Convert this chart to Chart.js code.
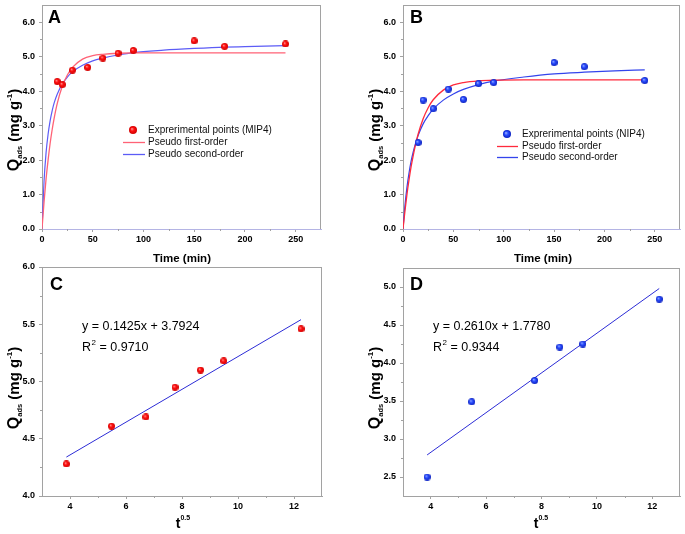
<!DOCTYPE html>
<html>
<head>
<meta charset="utf-8">
<script src="https://cdn.jsdelivr.net/npm/chart.js@4.4.1/dist/chart.umd.min.js"></script>
<style>
  html, body { margin: 0; padding: 0; background: #fff; }
  #wrap { position: relative; width: 685px; height: 534px; }
  #wrap canvas { position: absolute; left: 0; top: 0; }
</style>
</head>
<body>
<div id="wrap">
  <canvas id="chartA" width="685" height="534"></canvas>
  <canvas id="chartB" width="685" height="534"></canvas>
  <canvas id="chartC" width="685" height="534"></canvas>
  <canvas id="chartD" width="685" height="534"></canvas>
</div>
<script>
// kinetics data (min, mg/g)
const timeExp = [15, 20, 30, 45, 60, 75, 90, 150, 180, 240];
const qExpMIP = [4.28, 4.19, 4.61, 4.69, 4.96, 5.10, 5.18, 5.46, 5.30, 5.37];
const qExpNIP = [2.51, 3.74, 3.49, 4.06, 3.76, 4.22, 4.25, 4.83, 4.71, 4.31];

// fitted curves
const timeFit = [0, 2, 4, 6, 8, 10, 12, 15, 20, 25, 30, 40, 50, 60, 75, 90, 120, 150, 180, 210, 240];
const firstOrderMIP = [0, 0.78, 1.45, 2.00, 2.48, 2.88, 3.22, 3.64, 4.14, 4.47, 4.69, 4.93, 5.03, 5.07, 5.10, 5.11, 5.11, 5.11, 5.11, 5.11, 5.11];
const secondOrderMIP = [0, 1.38, 2.21, 2.75, 3.14, 3.43, 3.66, 3.91, 4.21, 4.41, 4.56, 4.75, 4.88, 4.96, 5.05, 5.12, 5.19, 5.24, 5.28, 5.30, 5.32];
const firstOrderNIP = [0, 0.54, 1.02, 1.43, 1.80, 2.11, 2.39, 2.75, 3.20, 3.52, 3.75, 4.03, 4.18, 4.25, 4.30, 4.32, 4.33, 4.33, 4.33, 4.33, 4.33];
const secondOrderNIP = [0, 0.70, 1.23, 1.63, 1.96, 2.22, 2.44, 2.71, 3.05, 3.29, 3.48, 3.74, 3.92, 4.05, 4.19, 4.29, 4.41, 4.50, 4.55, 4.59, 4.62];

// intraparticle diffusion (t^0.5)
const sqrtTimeMIP = [3.87, 5.48, 6.71, 7.75, 8.66, 9.49, 12.25];
const qDiffMIP = [4.28, 4.61, 4.69, 4.95, 5.10, 5.18, 5.46];
const fitXMIP = [3.87, 12.25];
const fitYMIP = [4.34, 5.54];
const sqrtTimeNIP = [3.87, 5.48, 7.75, 8.66, 9.49, 12.25];
const qDiffNIP = [2.50, 3.49, 3.77, 4.21, 4.25, 4.84];
const fitXNIP = [3.87, 12.25];
const fitYNIP = [2.79, 4.98];

// ticks
const timeTicks = [0, 50, 100, 150, 200, 250];
const timeMinor = [25, 75, 125, 175, 225];
const qTicks = [0, 1, 2, 3, 4, 5, 6];
const qMinor = [0.5, 1.5, 2.5, 3.5, 4.5, 5.5];
const sqrtTicks = [4, 6, 8, 10, 12];
const sqrtMinor = [5, 7, 9, 11];
const qTicksC = [4.0, 4.5, 5.0, 5.5, 6.0];
const qMinorC = [4.25, 4.75, 5.25, 5.75];
const qTicksD = [2.5, 3.0, 3.5, 4.0, 4.5, 5.0];
const qMinorD = [2.75, 3.25, 3.75, 4.25, 4.75];

const FONT = '"Liberation Sans", Arial, sans-serif';
const GREY = '#a2a2a2';

function sphere(d, hi, mid, lo) {
  const c = document.createElement('canvas');
  c.width = c.height = d;
  const g = c.getContext('2d');
  const r = d / 2;
  const grad = g.createRadialGradient(r * 0.7, r * 0.7, 0, r, r, r);
  grad.addColorStop(0, hi);
  grad.addColorStop(0.45, mid);
  grad.addColorStop(1, lo);
  g.fillStyle = grad;
  g.beginPath();
  g.arc(r, r, r, 0, Math.PI * 2);
  g.fill();
  return c;
}
const redDot = sphere(7, '#ff9a9a', '#ff1010', '#d00000');
const blueDot = sphere(7, '#9fb4ff', '#2a4dff', '#0a20c0');
const redBig = sphere(8, '#ffa0a0', '#ff1010', '#d00000');
const blueBig = sphere(8, '#a8bcff', '#2a4dff', '#0a20c0');

const pts = (xs, ys) => xs.map((x, i) => ({ x: x, y: ys[i] }));

// draws text pieces with sub/superscripts, centred at (x, y)
function richText(ctx, parts, x, y, rotate) {
  ctx.save();
  ctx.translate(x, y);
  if (rotate) ctx.rotate(-Math.PI / 2);
  let total = 0;
  parts.forEach(p => { ctx.font = 'bold ' + p.size + 'px ' + FONT; total += ctx.measureText(p.t).width; });
  let cx = -total / 2;
  ctx.fillStyle = '#000';
  ctx.textBaseline = 'alphabetic';
  ctx.textAlign = 'left';
  parts.forEach(p => {
    ctx.font = 'bold ' + p.size + 'px ' + FONT;
    ctx.fillText(p.t, cx, 5 + (p.dy || 0));
    cx += ctx.measureText(p.t).width;
  });
  ctx.restore();
}

const yTitle = [
  { t: 'Q', size: 16 }, { t: 'ads', size: 7.5, dy: 3 },
  { t: ' (mg g', size: 15 }, { t: '-1', size: 8, dy: -7 }, { t: ')', size: 15 }
];

const decor = {
  id: 'decor',
  afterDraw(chart, args, o) {
    const ctx = chart.ctx, a = chart.chartArea;
    const xs = chart.scales.x, ys = chart.scales.y;
    ctx.save();
    ctx.strokeStyle = GREY;
    ctx.lineWidth = 1;
    ctx.beginPath();
    ctx.moveTo(a.left, Math.round(a.top) + 0.5);
    ctx.lineTo(a.right, Math.round(a.top) + 0.5);
    ctx.moveTo(Math.round(a.right) - 0.5, a.top);
    ctx.lineTo(Math.round(a.right) - 0.5, a.bottom);
    o.minorX.forEach(v => {
      const px = Math.round(xs.getPixelForValue(v)) + 0.5;
      ctx.moveTo(px, a.bottom);
      ctx.lineTo(px, a.bottom + 2);
    });
    o.minorY.forEach(v => {
      const py = Math.round(ys.getPixelForValue(v)) + 0.5;
      ctx.moveTo(a.left - 2, py);
      ctx.lineTo(a.left, py);
    });
    ctx.stroke();

    // panel letter
    ctx.fillStyle = '#000';
    ctx.font = 'bold 18px ' + FONT;
    ctx.textAlign = 'left';
    ctx.textBaseline = 'alphabetic';
    ctx.fillText(o.letter, o.letterPos[0], o.letterPos[1]);

    // axis titles
    richText(ctx, o.xTitle, o.xTitlePos[0], o.xTitlePos[1], false);
    richText(ctx, yTitle, o.yTitlePos[0], o.yTitlePos[1], true);

    // legend
    if (o.legend) {
      const L = o.legend;
      ctx.font = '10px ' + FONT;
      ctx.textBaseline = 'middle';
      chart.data.datasets.forEach((ds, i) => {
        const y = L.y[i];
        if (ds.pointStyle) {
          ctx.drawImage(L.dot, L.dotX - 4, y - 4);
        } else {
          ctx.strokeStyle = ds.borderColor;
          ctx.lineWidth = 1.3;
          ctx.beginPath();
          ctx.moveTo(L.lineX[0], y + 0.5);
          ctx.lineTo(L.lineX[1], y + 0.5);
          ctx.stroke();
        }
        ctx.fillStyle = '#111';
        ctx.fillText(ds.label, L.textX, y + 0.5);
      });
    }

    // equation
    if (o.equation) {
      const E = o.equation;
      ctx.fillStyle = '#000';
      ctx.textBaseline = 'middle';
      ctx.font = '12.5px ' + FONT;
      ctx.fillText(E.line, E.x, E.y[0]);
      ctx.fillText('R', E.x, E.y[1]);
      const w = ctx.measureText('R').width;
      ctx.font = '8px ' + FONT;
      ctx.fillText('2', E.x + w + 0.5, E.y[1] - 5);
      ctx.font = '12.5px ' + FONT;
      ctx.fillText(' = ' + E.r2, E.x + w + 5, E.y[1]);
    }
    ctx.restore();
  }
};

function axis(min, max, ticks, fmt, isX, borderColor) {
  return {
    type: 'linear',
    min: min,
    max: max,
    afterBuildTicks: s => { s.ticks = ticks.map(v => ({ value: v })); },
    afterFit: s => {
      if (isX) s.height = 30; else s.width = 40;
      s.paddingLeft = 0; s.paddingRight = 0; s.paddingTop = 0; s.paddingBottom = 0;
    },
    grid: { drawOnChartArea: false, drawTicks: true, tickLength: 3, tickColor: GREY },
    border: { display: true, color: borderColor || GREY, width: 1 },
    ticks: {
      autoSkip: false, maxRotation: 0, padding: isX ? 2 : 4, color: '#000',
      font: { family: FONT, size: 9, weight: 'bold' },
      callback: v => fmt(v)
    }
  };
}

function makePanel(id, p) {
  return new Chart(document.getElementById(id), {
    type: 'scatter',
    data: { datasets: p.datasets },
    options: {
      responsive: false,
      animation: false,
      events: [],
      layout: { padding: { left: p.area[0] - 40, top: p.area[1], right: 685 - p.area[2], bottom: 534 - p.area[3] - 30 } },
      scales: {
        x: axis(p.x[0], p.x[1], p.xTicks, p.xFmt, true, p.xBorder),
        y: axis(p.y[0], p.y[1], p.yTicks, p.yFmt, false)
      },
      plugins: {
        legend: { display: false },
        tooltip: { enabled: false },
        decor: p.decor
      }
    },
    plugins: [decor]
  });
}

const lineSet = (label, xs, ys, color, width) => ({
  label: label, data: pts(xs, ys), showLine: true, borderColor: color,
  borderWidth: width, pointRadius: 0, cubicInterpolationMode: 'monotone', fill: false
});
const dotSet = (label, xs, ys, img) => ({
  label: label, data: pts(xs, ys), pointStyle: img, pointRadius: 3.5, showLine: false
});

const timeTitle = [{ t: 'Time (min)', size: 11.5 }];
const sqrtTitle = [{ t: 't', size: 14 }, { t: '0.5', size: 7, dy: -8 }];
const int = v => String(v);
const one = v => v.toFixed(1);

makePanel('chartA', {
  area: [42, 1, 321, 229], x: [0, 275], y: [0, 6.5],
  xTicks: timeTicks, yTicks: qTicks, xFmt: int, yFmt: one, xBorder: '#b4b4e4',
  datasets: [
    dotSet('Exprerimental points (MIP4)', timeExp, qExpMIP, redDot),
    lineSet('Pseudo first-order', timeFit, firstOrderMIP, '#ff6276', 1.3),
    lineSet('Pseudo second-order', timeFit, secondOrderMIP, '#5c5cf6', 1.2)
  ],
  decor: {
    minorX: timeMinor, minorY: qMinor, letter: 'A', letterPos: [48, 23],
    xTitle: timeTitle, xTitlePos: [182, 257], yTitlePos: [14, 130],
    legend: { y: [130, 142, 154], dot: redBig, dotX: 133, lineX: [123, 145], textX: 148 }
  }
});

makePanel('chartB', {
  area: [403, 1, 682, 229], x: [0, 275], y: [0, 6.5],
  xTicks: timeTicks, yTicks: qTicks, xFmt: int, yFmt: one, xBorder: '#b4b4e4',
  datasets: [
    dotSet('Exprerimental points (NIP4)', timeExp, qExpNIP, blueDot),
    lineSet('Pseudo first-order', timeFit, firstOrderNIP, '#ff2a3c', 1.3),
    lineSet('Pseudo second-order', timeFit, secondOrderNIP, '#3444ec', 1.2)
  ],
  decor: {
    minorX: timeMinor, minorY: qMinor, letter: 'B', letterPos: [410, 23],
    xTitle: timeTitle, xTitlePos: [543, 257], yTitlePos: [375, 130],
    legend: { y: [134, 146, 157], dot: blueBig, dotX: 507, lineX: [497, 518], textX: 522 }
  }
});

makePanel('chartC', {
  area: [42, 267, 322, 496], x: [3, 13], y: [4, 6],
  xTicks: sqrtTicks, yTicks: qTicksC, xFmt: int, yFmt: one,
  datasets: [
    dotSet('MIP4', sqrtTimeMIP, qDiffMIP, redDot),
    lineSet('fit', fitXMIP, fitYMIP, '#2c2cd6', 1)
  ],
  decor: {
    minorX: sqrtMinor, minorY: qMinorC, letter: 'C', letterPos: [50, 290],
    xTitle: sqrtTitle, xTitlePos: [183, 523], yTitlePos: [14, 388],
    equation: { line: 'y = 0.1425x + 3.7924', r2: '0.9710', x: 82, y: [327, 348] }
  }
});

makePanel('chartD', {
  area: [403, 268, 682, 496], x: [3, 13], y: [2.25, 5.25],
  xTicks: sqrtTicks, yTicks: qTicksD, xFmt: int, yFmt: one,
  datasets: [
    dotSet('NIP4', sqrtTimeNIP, qDiffNIP, blueDot),
    lineSet('fit', fitXNIP, fitYNIP, '#2c2cd6', 1)
  ],
  decor: {
    minorX: sqrtMinor, minorY: qMinorD, letter: 'D', letterPos: [410, 290],
    xTitle: sqrtTitle, xTitlePos: [541, 523], yTitlePos: [375, 388],
    equation: { line: 'y = 0.2610x + 1.7780', r2: '0.9344', x: 433, y: [327, 348] }
  }
});
</script>
</body>
</html>
